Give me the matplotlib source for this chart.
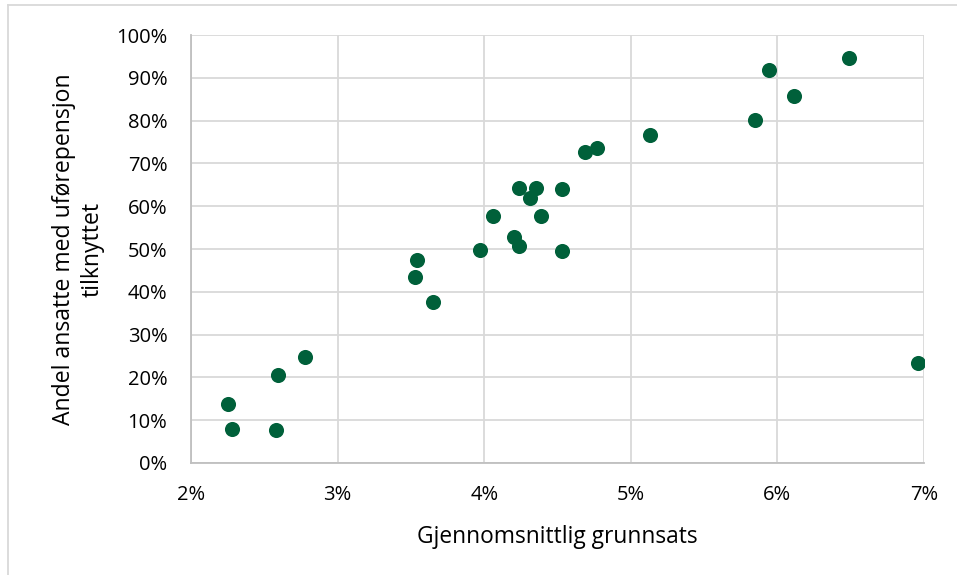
import matplotlib.pyplot as plt
from matplotlib.lines import Line2D
from matplotlib.ticker import FuncFormatter

# Gjennomsnittlig grunnsats (%) og andel ansatte med uførepensjon (%)
grunnsats = [2.25, 2.28, 2.58, 2.59, 2.78, 3.53, 3.54, 3.65, 3.97, 4.06,
             4.20, 4.24, 4.24, 4.31, 4.35, 4.39, 4.53, 4.53, 4.69, 4.77,
             5.13, 5.85, 5.94, 6.11, 6.49, 6.96]
andel_ufore = [13.8, 7.9, 7.6, 20.6, 24.8, 43.5, 47.4, 37.6, 49.8, 57.6,
               52.9, 50.6, 64.3, 62.0, 64.2, 57.8, 49.5, 64.0, 72.7, 73.5,
               76.6, 80.2, 91.9, 85.8, 94.6, 23.3]

x_ticks = [2, 3, 4, 5, 6, 7]
y_ticks = list(range(0, 101, 10))

plt.rcParams['font.family'] = ['Open Sans', 'DejaVu Sans']

fig = plt.figure(figsize=(9.57, 5.75), dpi=100)
ax = fig.add_axes([0.1996, 0.1948, 0.7659, 0.7443])

ax.scatter(grunnsats, andel_ufore, s=118, color='#00603A', zorder=3, linewidths=0)

ax.set_xlim(2, 7)
ax.set_ylim(0, 100)
ax.set_xticks(x_ticks)
ax.set_yticks(y_ticks)
ax.xaxis.set_major_formatter(FuncFormatter(lambda v, _: f'{v:.0f}%'))
ax.yaxis.set_major_formatter(FuncFormatter(lambda v, _: f'{v:.0f}%'))
ax.tick_params(length=0, labelsize=14.5, colors='#000000')
ax.tick_params(axis='x', pad=16)
ax.tick_params(axis='y', pad=17)

ax.grid(True, color='#D9D9D9', linewidth=1.3)
ax.set_axisbelow(True)
for side in ['top', 'right']:
    ax.spines[side].set_visible(False)
for side in ['left', 'bottom']:
    ax.spines[side].set_color('#BFBFBF')
    ax.spines[side].set_linewidth(1.3)

ax.set_xlabel('Gjennomsnittlig grunnsats', fontsize=16.4, labelpad=14)
ax.set_ylabel('Andel ansatte med uførepensjon\ntilknyttet', fontsize=16.6,
              labelpad=8, linespacing=1.3)

# ramme rundt diagrammet
fig.add_artist(Line2D([8 / 957, 8 / 957], [0, 1 - 5 / 575], transform=fig.transFigure,
                      color='#D9D9D9', linewidth=1.3))
fig.add_artist(Line2D([8 / 957, 1], [1 - 5 / 575, 1 - 5 / 575], transform=fig.transFigure,
                      color='#D9D9D9', linewidth=1.3))

fig.savefig('out.png', dpi=100)
